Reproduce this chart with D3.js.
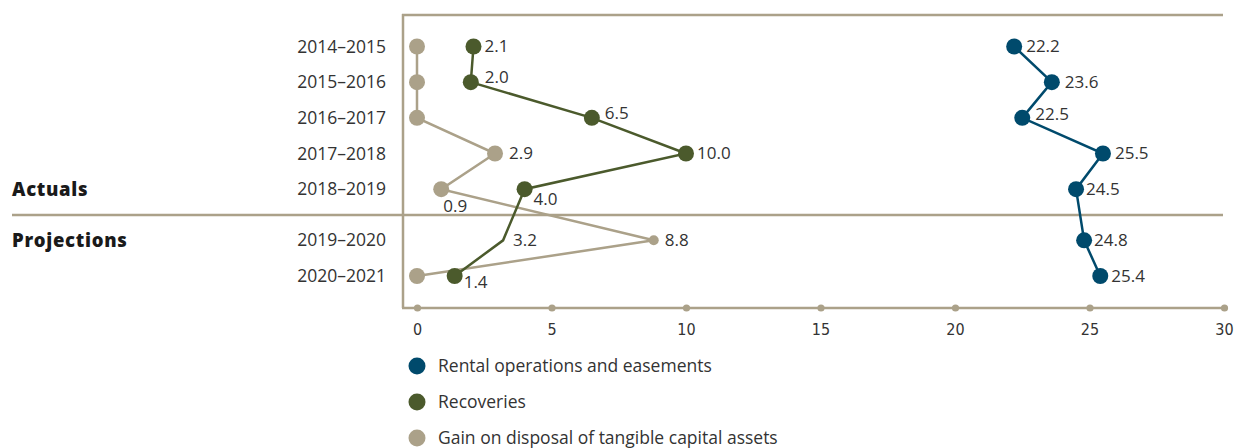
<!DOCTYPE html>
<html>
<head>
<meta charset="utf-8">
<script src="https://cdn.jsdelivr.net/npm/d3@7"></script>
<style>
  html, body { margin: 0; padding: 0; background: #fff; }
  svg { display: block; }
  text { font-family: "Open Sans", Lato, sans-serif; fill: #333; }
</style>
</head>
<body>
<svg id="chart" width="1251" height="448"></svg>
<script>
// ---- data ----
const categories = ["2014–2015", "2015–2016", "2016–2017", "2017–2018", "2018–2019", "2019–2020", "2020–2021"];
const rental = [22.2, 23.6, 22.5, 25.5, 24.5, 24.8, 25.4];
const recoveries = [2.1, 2.0, 6.5, 10.0, 4.0, 3.2, 1.4];
const gain = [0, 0, 0, 2.9, 0.9, 8.8, 0];
const xTicks = [0, 5, 10, 15, 20, 25, 30];
const groupLabels = ["Actuals", "Projections"];
const seriesNames = ["Rental operations and easements", "Recoveries", "Gain on disposal of tangible capital assets"];
const nActual = 5;

// ---- styling / layout ----
const colors = { rental: "#004a6c", recoveries: "#4b5a2c", gain: "#aba189", frame: "#aba189" };
const svg = d3.select("#chart");
const frameLeft = 403, frameRight = 1223, frameTop = 15, axisY = 308, sepY = 215;

const x = d3.scaleLinear().domain([0, 30]).range([417, 1224]);
const yIdx = d3.scaleLinear().domain([0, 6]).range([46.5, 260.5]);
const y = i => yIdx(i) + (i >= nActual ? 15.5 : 0);

// frame
svg.append("line").attr("x1", frameLeft).attr("x2", frameLeft).attr("y1", frameTop - 1).attr("y2", axisY)
  .attr("stroke", colors.frame).attr("stroke-width", 2.5);
svg.append("line").attr("x1", frameLeft - 1).attr("x2", frameRight).attr("y1", frameTop).attr("y2", frameTop)
  .attr("stroke", colors.frame).attr("stroke-width", 2.5);
svg.append("line").attr("x1", 12).attr("x2", frameRight).attr("y1", sepY).attr("y2", sepY)
  .attr("stroke", colors.frame).attr("stroke-width", 2.5);

// x axis
const axis = d3.axisBottom(x).tickValues(xTicks).tickSize(0).tickPadding(16).tickFormat(d3.format("d"));
const gAxis = svg.append("g").attr("transform", `translate(0,${axisY})`).call(axis);
gAxis.select(".domain").remove();
gAxis.insert("line", ":first-child").attr("x1", frameLeft - 1).attr("x2", x(30)).attr("y1", 0).attr("y2", 0)
  .attr("stroke", colors.frame).attr("stroke-width", 2.5);
gAxis.selectAll(".tick").append("circle").attr("r", 3.6).attr("fill", colors.frame);
gAxis.selectAll(".tick text").style("font-family", "'DejaVu Sans Condensed', 'Open Sans', sans-serif")
  .style("font-stretch", "condensed").style("font-weight", "300")
  .style("font-size", "16px").attr("fill", "#333");

// category labels
svg.selectAll(".cat").data(categories).join("text")
  .attr("class", "cat")
  .attr("x", 386).attr("y", (d, i) => y(i)).attr("dy", "0.35em")
  .attr("text-anchor", "end").style("font-size", "17.5px")
  .text(d => d);

// group labels
svg.selectAll(".grp").data(groupLabels).join("text")
  .attr("class", "grp")
  .attr("x", 12).attr("y", (d, i) => y(i === 0 ? 4 : 5)).attr("dy", "0.35em")
  .style("font-size", "18.5px").style("font-weight", "800").style("letter-spacing", "0.7px")
  .style("fill", "#1a1a1a")
  .text(d => d);

const line = d3.line().x(d => x(d.v)).y(d => y(d.i));

function drawSeries(values, color, opts) {
  const pts = values.map((v, i) => ({ v, i }));
  svg.append("path").datum(pts).attr("d", line).attr("fill", "none")
    .attr("stroke", color).attr("stroke-width", 2.5);
  svg.selectAll(null).data(pts.filter(p => !(opts.noMarker || []).includes(p.i))).join("circle")
    .attr("cx", d => x(d.v)).attr("cy", d => y(d.i))
    .attr("r", d => (opts.smallMarker || []).includes(d.i) ? 5 : 8)
    .attr("fill", color);
  svg.selectAll(null).data(pts.filter(p => !(opts.noLabel || []).includes(p.i))).join("text")
    .attr("x", d => x(d.v) + ((opts.dx || {})[d.i] ?? 11))
    .attr("y", d => y(d.i) + ((opts.dy || {})[d.i] ?? 0))
    .attr("dy", "0.35em").style("font-size", "17px")
    .text(d => d.v.toFixed(1));
}

drawSeries(gain, colors.gain, {
  noLabel: [0, 1, 2, 6], smallMarker: [5],
  dx: { 3: 14, 4: 2, 5: 11 }, dy: { 4: 17 }
});
drawSeries(recoveries, colors.recoveries, {
  noMarker: [5],
  dx: { 0: 11, 1: 14, 2: 13, 3: 11, 4: 9, 5: 10, 6: 9 },
  dy: { 1: -5, 2: -5, 4: 10, 6: 6 }
});
drawSeries(rental, colors.rental, {
  dx: { 0: 12, 1: 13, 2: 13, 3: 12, 4: 10, 5: 10, 6: 11 },
  dy: { 2: -4 }
});

// legend
const legend = svg.append("g");
const legendItems = [
  { name: seriesNames[0], color: colors.rental },
  { name: seriesNames[1], color: colors.recoveries },
  { name: seriesNames[2], color: colors.gain }
];
const ly = d3.scalePoint().domain(legendItems.map(d => d.name)).range([366, 438]);
legend.selectAll("circle").data(legendItems).join("circle")
  .attr("cx", 417).attr("cy", d => ly(d.name)).attr("r", 8.5).attr("fill", d => d.color);
legend.selectAll("text").data(legendItems).join("text")
  .attr("x", 438).attr("y", d => ly(d.name)).attr("dy", "0.35em")
  .style("font-size", "17.5px")
  .text(d => d.name);
</script>
</body>
</html>
